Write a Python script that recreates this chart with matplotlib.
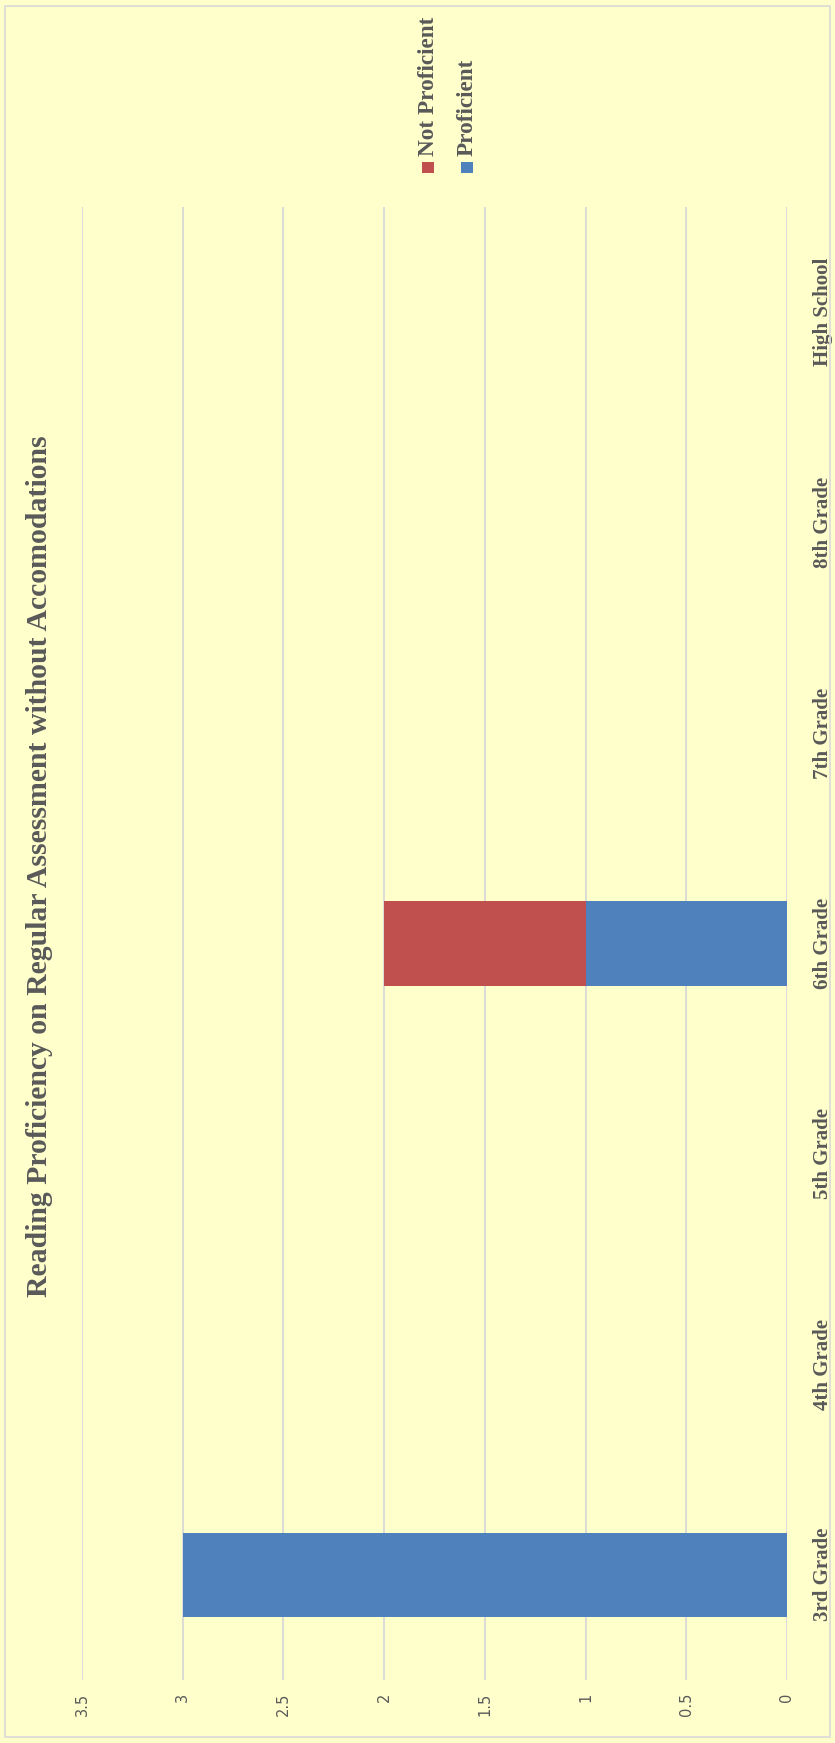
import matplotlib
matplotlib.use("Agg")
import matplotlib.pyplot as plt
from matplotlib.patches import Rectangle

# =========================================================
# DATOS
# =========================================================

categorias = [
    "3rd Grade", "4th Grade", "5th Grade", "6th Grade",
    "7th Grade", "8th Grade", "High School"
]

proficient = [3, 0, 0, 1, 0, 0, 0]
not_proficient = [0, 0, 0, 1, 0, 0, 0]

ticks_valor = [0, 0.5, 1, 1.5, 2, 2.5, 3, 3.5]
etiquetas_valor = ["0", "0.5", "1", "1.5", "2", "2.5", "3", "3.5"]

titulo = "Reading Proficiency on Regular Assessment without Accomodations"

# =========================================================
# ESTILO
# =========================================================

W, H = 835, 1743
fondo = "#FFFFCC"
gris_texto = "#595959"
gris_grid = "#D9D9D9"
azul = "#4F81BD"
rojo = "#C0504D"
serif = ["Liberation Serif", "DejaVu Serif"]

fig = plt.figure(figsize=(W / 100, H / 100), dpi=100, facecolor=fondo)


def ajustar_largo(texto, largo_px):
    # escala la fuente para que el texto girado mida largo_px
    fig.canvas.draw()
    bb = texto.get_window_extent()
    texto.set_fontsize(texto.get_fontsize() * largo_px / bb.height)


# borde exterior
fig.patches.append(
    Rectangle(
        (5 / W, 6 / H), 825 / W, 1731 / H,
        transform=fig.transFigure,
        facecolor="none",
        edgecolor=gris_grid,
        linewidth=1.2
    )
)

ax = fig.add_axes([
    82 / W,
    (H - 1680) / H,
    (787 - 82) / W,
    (1680 - 207) / H
])
ax.set_facecolor(fondo)

y = list(range(len(categorias)))

ax.barh(y, proficient, height=0.4, color=azul, zorder=3)
ax.barh(y, not_proficient, left=proficient, height=0.4, color=rojo, zorder=3)

ax.set_xlim(3.5, 0)
ax.set_ylim(-0.5, len(categorias) - 0.5)

ax.set_xticks(ticks_valor)
ax.set_xticklabels(etiquetas_valor, rotation=90, va="top", ha="center",
                   fontsize=10.5, color=gris_texto)

ax.yaxis.tick_right()
ax.set_yticks(y)
ax.set_yticklabels(categorias, rotation=90, va="center", ha="center",
                   fontsize=15, fontweight="bold", color=gris_texto,
                   family=serif)
ax.tick_params(axis="y", length=0, pad=26)
ax.tick_params(axis="x", length=0, pad=9)

ax.grid(axis="x", color=gris_grid, linewidth=1.3, zorder=0)
for s in ax.spines.values():
    s.set_visible(False)

# =========================================================
# TITULO
# =========================================================

t = fig.text(40 / W, 1 - 866 / H, titulo, rotation=90,
             ha="center", va="center", fontsize=20.5, fontweight="bold",
             color=gris_texto, family=serif)
ajustar_largo(t, 862)

# =========================================================
# LEYENDA
# =========================================================

leyenda = [
    ("Not Proficient", rojo, 428),
    ("Proficient", azul, 467),
]

textos_leyenda = []
for nombre, color, xc in leyenda:
    fig.patches.append(
        Rectangle(
            ((xc - 6) / W, 1 - 173 / H), 12 / W, 11 / H,
            transform=fig.transFigure,
            facecolor=color,
            edgecolor="none"
        )
    )
    tl = fig.text(xc / W, 1 - 156 / H, nombre, rotation=90,
                  ha="center", va="bottom", fontsize=15.5, fontweight="bold",
                  color=gris_texto, family=serif)
    textos_leyenda.append(tl)

ajustar_largo(textos_leyenda[0], 140)
textos_leyenda[1].set_fontsize(textos_leyenda[0].get_fontsize())

fig.savefig("out.png", dpi=100, facecolor=fondo)
